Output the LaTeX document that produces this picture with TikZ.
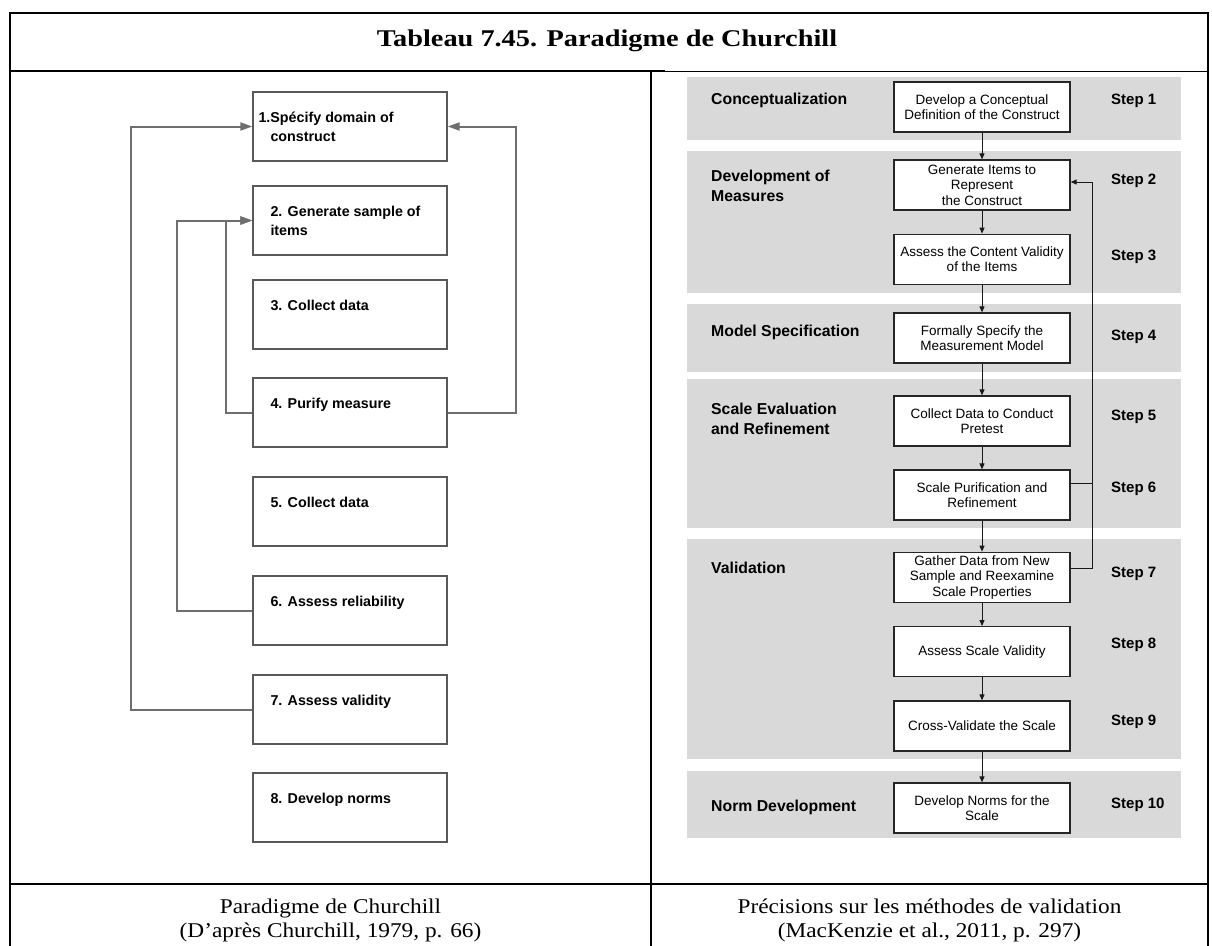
\documentclass[tikz,border=0pt]{standalone}
\usepackage{fontspec}
\setmainfont{Liberation Serif}
\setsansfont{Liberation Sans}
\usepackage{graphicx}
\usepackage{tikz}
\usetikzlibrary{arrows.meta}
\definecolor{bandgray}{RGB}{217,217,217}
\definecolor{loopgray}{RGB}{110,110,110}
\newcommand{\widetext}[2][1.11]{\scalebox{#1}[1]{#2}}

\begin{document}
\begin{tikzpicture}[x=1pt, y=-1pt,
                tbl/.style={line width=1.6pt, black}, % table rules
                cbox/.style={draw=black!65, line width=1.4pt, minimum width=194pt, minimum height=69pt, inner sep=0pt}, % Churchill boxes
                ctext/.style={anchor=north west, align=left, inner sep=0pt, yshift=-21pt, font=\sffamily\bfseries\fontsize{14.3}{19}\selectfont}, % text inside them
                cloop/.style={draw=loopgray, line width=2pt}, % feedback loops
                band/.style={fill=bandgray}, % grey phase bands
                mbox/.style={draw=black!85, fill=white, line width=1.3pt, minimum width=176pt, minimum height=50pt, inner sep=1pt, align=center, font=\sffamily\fontsize{13.5}{15.5}\selectfont}, % MacKenzie boxes
                phase/.style={anchor=west, align=left, inner sep=0pt, font=\sffamily\bfseries\fontsize{15.8}{20}\selectfont}, % phase names
                steplbl/.style={anchor=west, inner sep=0pt, font=\sffamily\bfseries\fontsize{15}{18}\selectfont}, % step numbers
                mline/.style={draw=black!90, line width=1pt}, % thin arrows
                caption/.style={align=center, inner sep=0pt, font=\fontsize{21}{24}\selectfont}
                ]
                \useasboundingbox (0,0) rectangle (1212,945);

                % table
                \draw[tbl] (10,950) -- (10,12.7) -- (1208,12.7) -- (1208,950);
                \draw[tbl] (10,71) -- (665,71);
                \draw[line width=1pt] (665,71) -- (1208,71);
                \draw[tbl] (651,71) -- (651,950);
                \draw[tbl] (10,884) -- (1208,884);
                \node[font=\bfseries\fontsize{24}{26}\selectfont] (title) at (607,41) {\widetext[1.18]{Tableau 7.45. Paradigme de Churchill}};

                % left: Churchill
                \node[cbox, label={[ctext, xshift=6pt]north west:1.Spécify domain of\\\hspace*{12pt}construct}] (c1) at (350,126.5) {};
                \node[cbox, label={[ctext, xshift=18pt]north west:2. Generate sample of\\items}] (c2) at (350,220.5) {};
                \node[cbox, label={[ctext, xshift=18pt]north west:3. Collect data}] (c3) at (350,314.5) {};
                \node[cbox, label={[ctext, xshift=18pt]north west:4. Purify measure}] (c4) at (350,412.5) {};
                \node[cbox, label={[ctext, xshift=18pt]north west:5. Collect data}] (c5) at (350,511.5) {};
                \node[cbox, label={[ctext, xshift=18pt]north west:6. Assess reliability}] (c6) at (350,610.5) {};
                \node[cbox, label={[ctext, xshift=18pt]north west:7. Assess validity}] (c7) at (350,709.5) {};
                \node[cbox, label={[ctext, xshift=18pt]north west:8. Develop norms}] (c8) at (350,807.5) {};

                \draw[cloop, -{Triangle[length=12pt, width=8pt]}] (c7.west) -- ++(-121,0) |- (c1.west);
                \draw[cloop, -{Triangle[length=12pt, width=8pt]}] (c6.west) -- ++(-75,0) |- (c2.west);
                \draw[cloop, -{Triangle[length=12pt, width=8pt]}] (c4.west) -- ++(-26,0) |- (c2.west);
                \draw[cloop, -{Triangle[length=12pt, width=8pt]}] (c4.east) -- ++(68,0) |- (c1.east);

                % right: MacKenzie et al.
                \fill[band] (687,77) rectangle (1181,140);
                \fill[band] (687,151) rectangle (1181,293);
                \fill[band] (687,304) rectangle (1181,372);
                \fill[band] (687,379) rectangle (1181,528);
                \fill[band] (687,539) rectangle (1181,759);
                \fill[band] (687,771) rectangle (1181,838);

                \node[phase] (p1) at (711,100) {Conceptualization};
                \node[phase] (p2) at (711,186) {Development of\\Measures};
                \node[phase] (p3) at (711,332) {Model Specification};
                \node[phase] (p4) at (711,419) {Scale Evaluation\\and Refinement};
                \node[phase] (p5) at (711,568) {Validation};
                \node[phase] (p6) at (711,807) {Norm Development};

                \node[mbox] (m1) at (982,107) {Develop a Conceptual\\Definition of the Construct};
                \node[mbox] (m2) at (982,185) {Generate Items to\\Represent\\the Construct};
                \node[mbox] (m3) at (982,259.3) {Assess the Content Validity\\of the Items};
                \node[mbox] (m4) at (982,338) {Formally Specify the\\Measurement Model};
                \node[mbox] (m5) at (982,421) {Collect Data to Conduct\\Pretest};
                \node[mbox] (m6) at (982,495) {Scale Purification and\\Refinement};
                \node[mbox] (m7) at (982,577.3) {Gather Data from New\\Sample and Reexamine\\Scale Properties};
                \node[mbox] (m8) at (982,651.7) {Assess Scale Validity};
                \node[mbox] (m9) at (982,726) {Cross-Validate the Scale};
                \node[mbox] (m10) at (982,808) {Develop Norms for the\\Scale};

                \node[steplbl] (s1) at (1111,100.7) {Step 1};
                \node[steplbl] (s2) at (1111,181) {Step 2};
                \node[steplbl] (s3) at (1111,256.7) {Step 3};
                \node[steplbl] (s4) at (1111,336.7) {Step 4};
                \node[steplbl] (s5) at (1111,417.3) {Step 5};
                \node[steplbl] (s6) at (1111,489) {Step 6};
                \node[steplbl] (s7) at (1111,574) {Step 7};
                \node[steplbl] (s8) at (1111,645) {Step 8};
                \node[steplbl] (s9) at (1111,722.3) {Step 9};
                \node[steplbl] (s10) at (1111,805) {Step 10};

                \foreach \a/\b in {m1/m2, m2/m3, m3/m4, m4/m5, m5/m6, m6/m7, m7/m8, m8/m9, m9/m10}
                    \draw[mline, -{Triangle[length=6pt, width=5pt]}] (\a) -- (\b);
                \draw[mline] ([yshift=12pt]m6.east) -- ++(22,0);
                \draw[mline, -{Triangle[length=6pt, width=5pt]}] ([yshift=9pt]m7.east) -- ++(22,0) |- ([yshift=3pt]m2.east);

                % captions
                \node[caption] (capl) at (330.5,920) {\widetext{Paradigme de Churchill}\\\widetext{(D’après Churchill, 1979, p. 66)}};
                \node[caption] (capr) at (929.5,920) {\widetext{Précisions sur les méthodes de validation}\\\widetext{(MacKenzie et al., 2011, p. 297)}};
            \end{tikzpicture}
\end{document}
